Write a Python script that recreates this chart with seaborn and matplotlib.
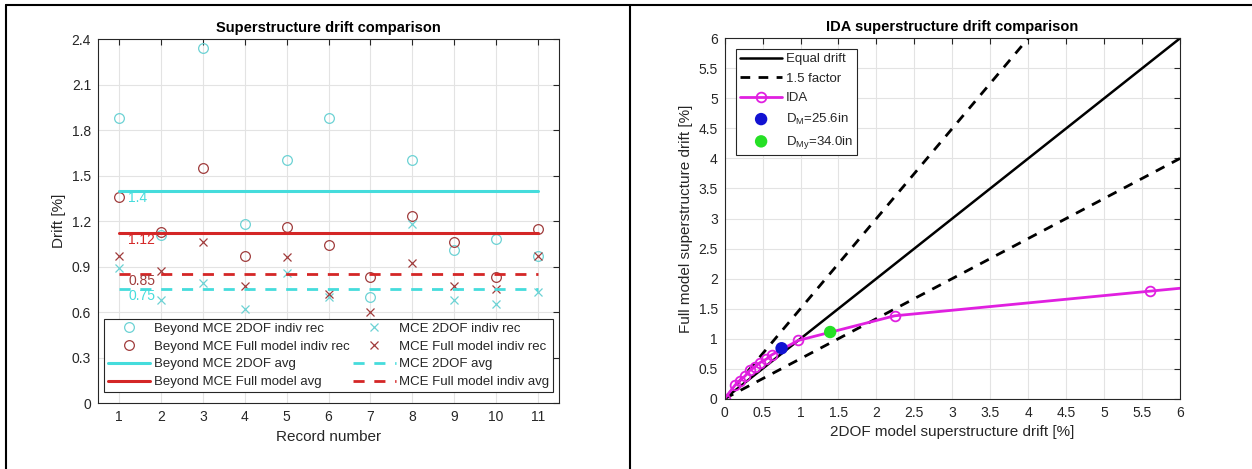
import numpy as np
import pandas as pd
import matplotlib
matplotlib.use("Agg")
import matplotlib.pyplot as plt
from matplotlib.lines import Line2D
import seaborn as sns

# ---------------- data ----------------
records = list(range(1, 12))
beyond_2dof = [1.88, 1.11, 2.34, 1.18, 1.60, 1.88, 0.70, 1.60, 1.01, 1.08, 0.97]
beyond_full = [1.36, 1.13, 1.55, 0.97, 1.16, 1.04, 0.83, 1.23, 1.06, 0.83, 1.15]
mce_2dof = [0.89, 0.68, 0.79, 0.62, 0.86, 0.70, 0.46, 1.18, 0.68, 0.65, 0.73]
mce_full = [0.97, 0.87, 1.06, 0.77, 0.96, 0.72, 0.60, 0.92, 0.77, 0.75, 0.97]
avg_values = [1.40, 1.12, 0.85, 0.75]   # beyond 2DOF, beyond full, MCE full, MCE 2DOF
avg_labels = ["1.4", "1.12", "0.85", "0.75"]

ida_2dof = [0.0, 0.14, 0.20, 0.27, 0.33, 0.40, 0.465, 0.55, 0.62, 0.97, 2.24, 5.60, 7.50]
ida_full = [0.0, 0.23, 0.30, 0.38, 0.47, 0.53, 0.60, 0.66, 0.73, 0.97, 1.38, 1.79, 2.02]
dm_point = [0.75, 0.84]
dmy_point = [1.39, 1.11]
ref_x = [0, 6]
factor = 1.5

# ---------------- style ----------------
sns.set_theme(style="whitegrid")
plt.rcParams["font.family"] = ["Liberation Sans", "DejaVu Sans"]
plt.rcParams["mathtext.fontset"] = "custom"
plt.rcParams["mathtext.rm"] = "Liberation Sans"
plt.rcParams["mathtext.it"] = "Liberation Sans"

TXT = "#262626"
CYAN = "#45DCDC"
CYAN_M = "#6CD2D4"
RED = "#D42626"
RED_D = "#B02A2A"
RED_M = "#A03C3C"
MAG = "#E020E0"

fig = plt.figure(figsize=(12.52, 4.69), dpi=100)

def style_axes(ax):
    ax.set_facecolor("white")
    for s in ax.spines.values():
        s.set_color(TXT)
        s.set_linewidth(0.8)
    ax.grid(True, color="#E3E3E3", linewidth=0.8)
    ax.tick_params(direction="in", length=4, width=0.8, color=TXT,
                   labelcolor=TXT, labelsize=10, top=True, right=True,
                   labeltop=False, labelright=False, pad=5)

# ---------------- left chart ----------------
ax1 = fig.add_axes([0.0783, 0.1407, 0.3682, 0.7761])
style_axes(ax1)
mk = dict(linestyle="none", markersize=7, markeredgewidth=0.9)
sns.lineplot(x=records, y=beyond_2dof, ax=ax1, marker="o", color=CYAN_M,
             markerfacecolor="none", markeredgecolor=CYAN_M,
             label="Beyond MCE 2DOF indiv rec", **mk)
sns.lineplot(x=records, y=beyond_full, ax=ax1, marker="o", color=RED_M,
             markerfacecolor="none", markeredgecolor=RED_M,
             label="Beyond MCE Full model indiv rec", **mk)
sns.lineplot(x=[1, 11], y=[avg_values[0]] * 2, ax=ax1, color=CYAN, linewidth=2.2,
             label="Beyond MCE 2DOF avg")
sns.lineplot(x=[1, 11], y=[avg_values[1]] * 2, ax=ax1, color=RED_D, linewidth=2.2,
             label="Beyond MCE Full model avg")
mk2 = dict(linestyle="none", markersize=6, markeredgewidth=0.9)
sns.lineplot(x=records, y=mce_2dof, ax=ax1, marker="x", color=CYAN_M,
             markeredgecolor=CYAN_M, label="MCE 2DOF indiv rec", **mk2)
sns.lineplot(x=records, y=mce_full, ax=ax1, marker="x", color=RED_M,
             markeredgecolor=RED_M, label="MCE Full model indiv rec", **mk2)
sns.lineplot(x=[1, 11], y=[avg_values[3]] * 2, ax=ax1, color=CYAN, linewidth=2.0,
             linestyle=(0, (4, 3.5)), label="MCE 2DOF avg")
sns.lineplot(x=[1, 11], y=[avg_values[2]] * 2, ax=ax1, color=RED_D, linewidth=2.0,
             linestyle=(0, (4, 3.5)), label="MCE Full model indiv avg")
ax1.lines[2].set_color(CYAN)
ax1.lines[3].set_color(RED)
ax1.lines[7].set_color(RED)

label_cols = [CYAN, RED, RED_M, CYAN]
for v, lab, c in zip(avg_values, avg_labels, label_cols):
    ax1.text(1.22, v - 0.045, lab, color=c, fontsize=10, va="center", ha="left")

ax1.set_xlim(0.5, 11.5)
ax1.set_ylim(0, 2.4)
ax1.set_xticks(records)
ax1.set_yticks(np.arange(0, 2.41, 0.3))
ax1.set_yticklabels(["0", "0.3", "0.6", "0.9", "1.2", "1.5", "1.8", "2.1", "2.4"])
ax1.set_xlabel("Record number", fontsize=11, color=TXT, labelpad=4)
ax1.set_ylabel("Drift [%]", fontsize=11, color=TXT, labelpad=4)
ax1.set_title("Superstructure drift comparison", fontsize=10.5, fontweight="bold",
              color="black", pad=5)

h, l = ax1.get_legend_handles_labels()
leg1 = ax1.legend(h, l, ncol=2, loc="lower center", bbox_to_anchor=(0.5, 0.03),
                  fontsize=9.5, frameon=True, fancybox=False, framealpha=1,
                  edgecolor=TXT, handlelength=3.2, handletextpad=0.25,
                  labelspacing=0.42, columnspacing=0.3, borderpad=0.3,
                  borderaxespad=0)
leg1.get_frame().set_linewidth(0.8)
for t in leg1.get_texts():
    t.set_color(TXT)

# ---------------- right chart ----------------
ax2 = fig.add_axes([0.5788, 0.1499, 0.3637, 0.7684])
style_axes(ax2)
ref_x_arr = np.array(ref_x, dtype=float)
sns.lineplot(x=ref_x_arr, y=ref_x_arr, ax=ax2, color="black", linewidth=1.8,
             label="Equal drift")
sns.lineplot(x=ref_x_arr, y=ref_x_arr * factor, ax=ax2, color="black", linewidth=2.0,
             linestyle=(0, (3.5, 3)), label="1.5 factor")
sns.lineplot(x=ref_x_arr, y=ref_x_arr / factor, ax=ax2, color="black", linewidth=2.0,
             linestyle=(0, (3.5, 3)), label="_nolegend_")
ida_df = pd.DataFrame({"x": ida_2dof, "y": ida_full})
sns.lineplot(data=ida_df, x="x", y="y", ax=ax2, color=MAG, linewidth=2.0,
             marker="o", markersize=7, markerfacecolor="none", markeredgecolor=MAG,
             markeredgewidth=1.3, sort=False, estimator=None, label="IDA")
sns.scatterplot(x=[dm_point[0]], y=[dm_point[1]], ax=ax2, color="#1212D2", s=80,
                edgecolor="none", label=r"D$_\mathregular{M}$=25.6in", zorder=5)
sns.scatterplot(x=[dmy_point[0]], y=[dmy_point[1]], ax=ax2, color="#25E025", s=80,
                edgecolor="none", label=r"D$_\mathregular{My}$=34.0in", zorder=5)

ax2.set_xlim(0, 6)
ax2.set_ylim(0, 6)
ticks = np.arange(0, 6.01, 0.5)
tick_labels = ["0", "0.5", "1", "1.5", "2", "2.5", "3", "3.5", "4", "4.5", "5", "5.5", "6"]
ax2.set_xticks(ticks)
ax2.set_xticklabels(tick_labels)
ax2.set_yticks(ticks)
ax2.set_yticklabels(tick_labels)
ax2.set_xlabel("2DOF model superstructure drift [%]", fontsize=11, color=TXT, labelpad=4)
ax2.set_ylabel("Full model superstructure drift [%]", fontsize=11, color=TXT, labelpad=4)
ax2.set_title("IDA superstructure drift comparison", fontsize=10.5, fontweight="bold",
              color="black", pad=5)
leg2 = ax2.legend(loc="upper left", bbox_to_anchor=(0.025, 0.97), fontsize=9.5,
                  frameon=True, fancybox=False, framealpha=1, edgecolor=TXT,
                  handlelength=3.2, handletextpad=0.25, labelspacing=0.55,
                  borderpad=0.3, borderaxespad=0)
leg2.get_frame().set_linewidth(0.8)
for t in leg2.get_texts():
    t.set_color(TXT)

# ---------------- table borders ----------------
W, H = 1252, 469
def fx(px):
    return px / W
def fy(py):
    return 1 - py / H
for xs, ys in [((6, 1252), (5, 5)), ((6, 6), (5, 469)), ((630, 630), (5, 469))]:
    fig.add_artist(Line2D([fx(xs[0]), fx(xs[1])], [fy(ys[0]), fy(ys[1])],
                          color="black", linewidth=1.5, transform=fig.transFigure))

fig.savefig("out.png", dpi=100, facecolor="white")
